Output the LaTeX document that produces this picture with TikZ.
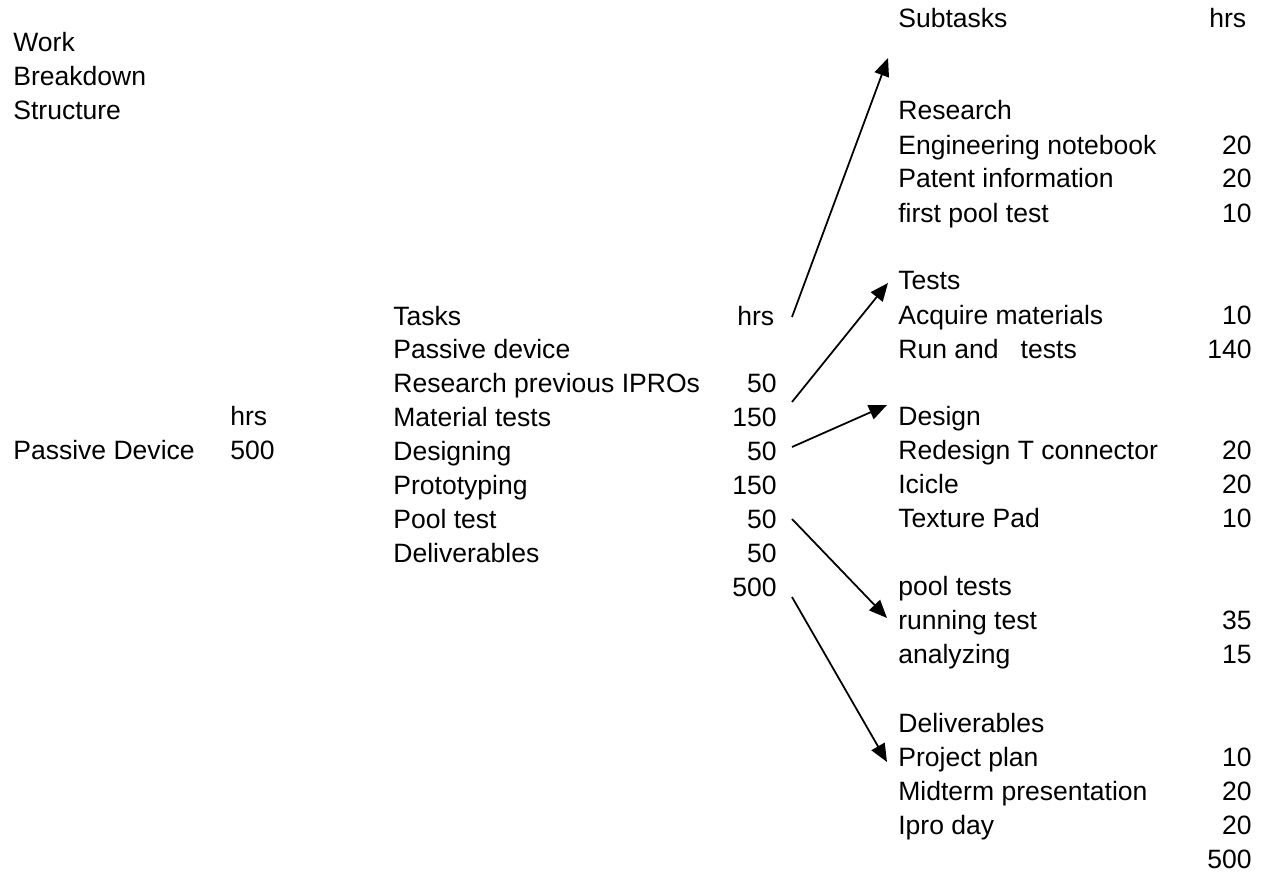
\documentclass[tikz,border=0pt]{standalone}
\usepackage{fontspec}
\setmainfont{Liberation Sans}
\usetikzlibrary{arrows.meta}

\begin{document}
\begin{tikzpicture}[x=0.02cm, y=-0.02cm,
		txt/.style={anchor=base west, inner sep=0pt, font=\fontsize{15.1}{18}\selectfont},
		num/.style={anchor=base east, inner sep=0pt, font=\fontsize{15.1}{18}\selectfont},
		link/.style={line width=1pt, -{Triangle[length=0.36cm, width=0.3cm]}}]
		%%%%% START %%%%%
		
		\useasboundingbox (0, 0) rectangle (1269, 875);
		
		\node[txt] (wbs1) at (13, 52) {Work};
		\node[txt] (wbs2) at (13, 86) {Breakdown};
		\node[txt] (wbs3) at (13, 120) {Structure};
		
		\node[txt] (topHrs) at (230, 425) {hrs};
		\node[txt] (topName) at (13, 459) {Passive Device};
		\node[txt] (topTotal) at (230, 459) {500};
		
		\node[txt] (tasksHead) at (393, 325) {Tasks};
		\node[txt] (tasksHrs) at (737, 325) {hrs};
		\node[txt] (taskDev) at (393, 358) {Passive device};
		\node[txt] (taskRes) at (393, 392) {Research previous IPROs};
		\node[num] (hrsRes) at (777, 392) {50};
		\node[txt] (taskMat) at (393, 426) {Material tests};
		\node[num] (hrsMat) at (777, 426) {150};
		\node[txt] (taskDes) at (393, 460) {Designing};
		\node[num] (hrsDes) at (777, 460) {50};
		\node[txt] (taskProto) at (393, 494) {Prototyping};
		\node[num] (hrsProto) at (777, 494) {150};
		\node[txt] (taskPool) at (393, 528) {Pool test};
		\node[num] (hrsPool) at (777, 528) {50};
		\node[txt] (taskDeliv) at (393, 562) {Deliverables};
		\node[num] (hrsDeliv) at (777, 562) {50};
		\node[num] (tasksTotal) at (777, 596) {500};
		
		\node[txt] (subHead) at (898, 28) {Subtasks};
		\node[txt] (subHrs) at (1209, 28) {hrs};
		
		\node[txt] (resHead) at (898, 120) {Research};
		\node[txt] (res1) at (898, 154) {Engineering notebook};
		\node[num] (resHrs1) at (1252, 154) {20};
		\node[txt] (res2) at (898, 188) {Patent information};
		\node[num] (resHrs2) at (1252, 188) {20};
		\node[txt] (res3) at (898, 222) {first pool test};
		\node[num] (resHrs3) at (1252, 222) {10};
		
		\node[txt] (testHead) at (898, 290) {Tests};
		\node[txt] (test1) at (898, 324) {Acquire materials};
		\node[num] (testHrs1) at (1252, 324) {10};
		\node[txt] (test2) at (898, 358) {Run and \ \ tests};
		\node[num] (testHrs2) at (1252, 358) {140};
		
		\node[txt] (desHead) at (898, 425) {Design};
		\node[txt] (des1) at (898, 459) {Redesign T connector};
		\node[num] (desHrs1) at (1252, 459) {20};
		\node[txt] (des2) at (898, 493) {Icicle};
		\node[num] (desHrs2) at (1252, 493) {20};
		\node[txt] (des3) at (898, 527) {Texture Pad};
		\node[num] (desHrs3) at (1252, 527) {10};
		
		\node[txt] (poolHead) at (898, 595) {pool tests};
		\node[txt] (pool1) at (898, 629) {running test};
		\node[num] (poolHrs1) at (1252, 629) {35};
		\node[txt] (pool2) at (898, 663) {analyzing};
		\node[num] (poolHrs2) at (1252, 663) {15};
		
		\node[txt] (delHead) at (898, 732) {Deliverables};
		\node[txt] (del1) at (898, 766) {Project plan};
		\node[num] (delHrs1) at (1252, 766) {10};
		\node[txt] (del2) at (898, 800) {Midterm presentation};
		\node[num] (delHrs2) at (1252, 800) {20};
		\node[txt] (del3) at (898, 834) {Ipro day};
		\node[num] (delHrs3) at (1252, 834) {20};
		\node[num] (subTotal) at (1252, 868) {500};
		
		% arrow ends
		\coordinate (fromTasks) at (792, 317);
		\coordinate (fromMat) at (792, 402);
		\coordinate (fromDes) at (792, 447);
		\coordinate (fromPool) at (792, 519);
		\coordinate (fromTotal) at (792, 597);
		\coordinate (toSub) at (888, 58);
		\coordinate (toTest) at (888, 283);
		\coordinate (toDes) at (887, 405);
		\coordinate (toPool) at (887, 618);
		\coordinate (toDel) at (887, 762);
		
		\draw[link] (fromTasks) -- (toSub);
		\draw[link] (fromMat) -- (toTest);
		\draw[link] (fromDes) -- (toDes);
		\draw[link] (fromPool) -- (toPool);
		\draw[link] (fromTotal) -- (toDel);
		
		%%%%% END %%%%%
	\end{tikzpicture}
\end{document}
